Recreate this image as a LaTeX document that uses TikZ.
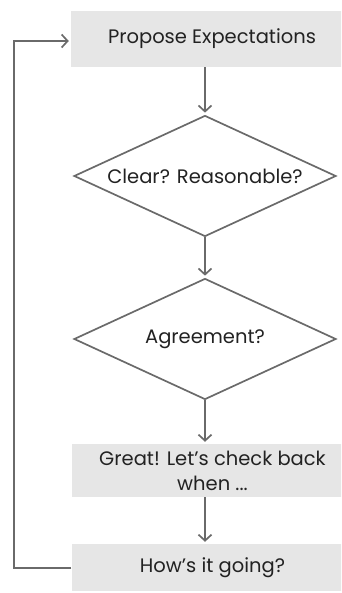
\documentclass[tikz,border=0pt]{standalone}
\usepackage{fontspec}
\setmainfont{Poppins}
\usetikzlibrary{shapes.geometric,arrows.meta}
\definecolor{boxfill}{HTML}{E6E6E6}
\definecolor{linegray}{HTML}{6A6A6A}
\definecolor{txt}{HTML}{222222}
\begin{document}
\begin{tikzpicture}[x=1pt,y=-1pt,
  every node/.style={text=txt,font=\fontsize{19.5}{25}\selectfont},
  procbox/.style={fill=boxfill,draw=none,minimum width=282pt,inner sep=0pt,align=center},
  decision/.style={diamond,draw=linegray,line width=1.7pt,minimum width=262pt,minimum height=121pt,inner sep=0pt},
  flow/.style={draw=linegray,line width=1.9pt,-{Straight Barb[length=6pt,width=13pt,line width=1.7pt]},shorten >=2pt}
]
\clip (0,0) rectangle (341,593);
\useasboundingbox (0,0) rectangle (341,593);
\node[procbox,minimum height=56pt] (p1) at (212,39) {Propose Expectations};
\node[decision] (d1) at (205,176) {\makebox[0pt]{Clear? Reasonable?}};
\node[decision] (d2) at (205,339) {\makebox[0pt]{Agreement?}};
\node[procbox,minimum height=53pt] (p3) at (212.5,470.5) {Great! Let’s check back\\when ...};
\node[procbox,minimum height=47pt] (p4) at (212.5,567.5) {How’s it going?};
\coordinate (lb) at (14,568);
\coordinate (lt) at (14,41);
\draw[flow] (p1.south -| d1.north) -- (d1.north);
\draw[flow] (d1.south) -- (d2.north);
\draw[flow] (d2.south) -- (p3.north -| d2.south);
\draw[flow] (p3.south -| d2.south) -- (p4.north -| d2.south);
\draw[flow] (p4.west |- lb) -- (lb) -- (lt) -- (p1.west |- lt);
\end{tikzpicture}
\end{document}
